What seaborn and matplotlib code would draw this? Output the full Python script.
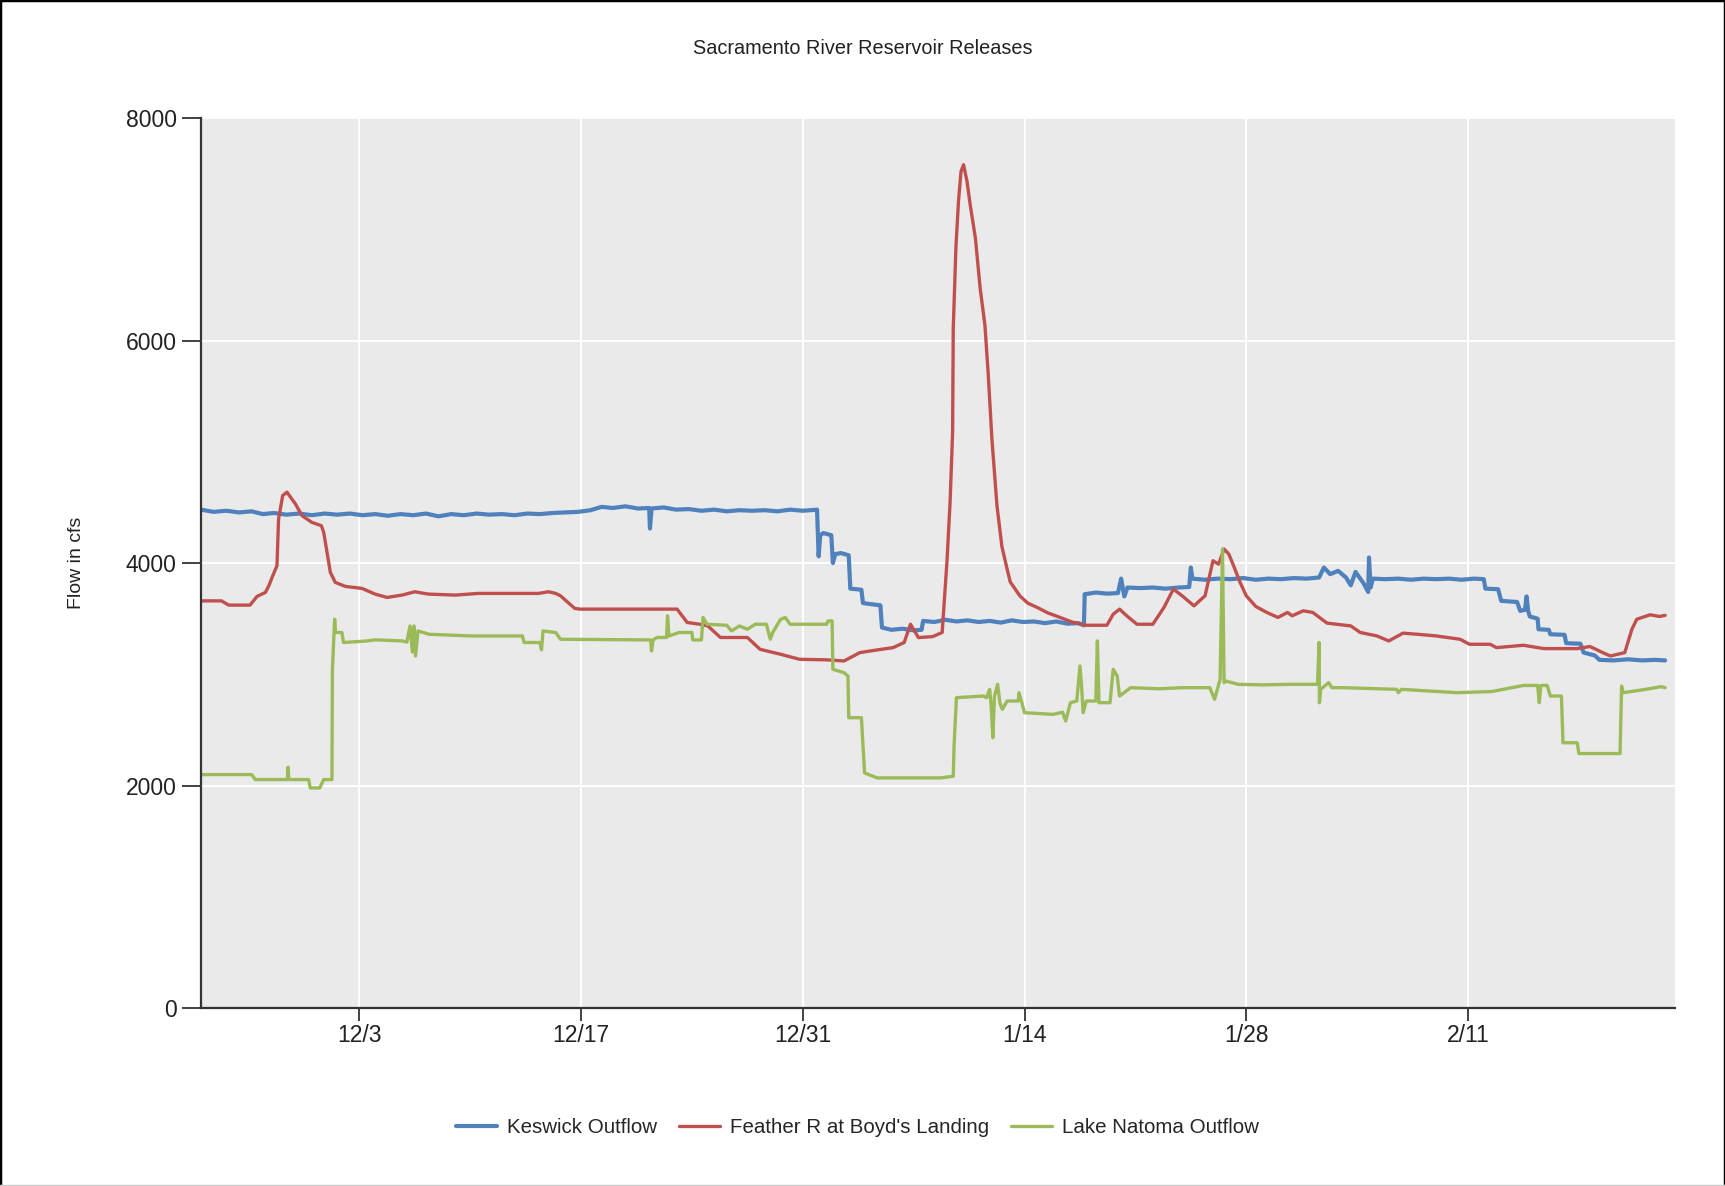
import pandas as pd
import seaborn as sns
import matplotlib
matplotlib.use('Agg')
import matplotlib.pyplot as plt
from matplotlib.lines import Line2D

# days counted from the first day of the record
start = '2012-11-23'

keswick_day = [0.0, 0.8, 1.6, 2.4, 3.2, 3.9, 4.6, 5.4, 6.2, 7.0, 7.8, 8.6, 9.4, 10.2, 11.0, 11.8,
               12.6, 13.4, 14.2, 15.0, 15.8, 16.6, 17.4, 18.2, 19.0, 19.8, 20.6, 21.4, 22.2, 23.0,
               23.8, 24.6, 25.3, 26.0, 26.8, 27.6, 28.3, 28.35, 28.45, 29.2, 30.0, 30.8, 31.6, 32.4,
               33.2, 34.0, 34.8, 35.6, 36.4, 37.2, 38.0, 38.9, 39.0, 39.1, 39.3, 39.8, 39.9, 40.05,
               40.4, 40.9, 41.0, 41.7, 41.8, 42.9, 43.0, 43.6, 44.3, 45.0, 45.5, 45.6, 46.3, 47.0,
               47.7, 48.4, 49.1, 49.8, 50.5, 51.2, 51.9, 52.6, 53.3, 54.0, 54.7, 55.4, 55.75, 55.8,
               56.5, 57.2, 57.9, 58.1, 58.3, 58.5, 59.3, 60.1, 60.9, 61.7, 62.4, 62.5, 62.6, 63.4,
               64.2, 65.0, 65.8, 66.6, 67.4, 68.2, 69.0, 69.8, 70.6, 70.9, 71.3, 71.8, 72.3, 72.6,
               72.9, 73.4, 73.7, 73.75, 73.85, 74.0, 74.8, 75.6, 76.4, 77.2, 78.0, 78.8, 79.6, 80.4,
               81.0, 81.1, 81.9, 82.1, 83.1, 83.3, 83.6, 83.7, 83.8, 83.9, 84.4, 84.45, 85.1, 85.2,
               86.1, 86.2, 87.1, 87.3, 88.0, 88.3, 89.2, 90.1, 91.0, 91.8, 92.45]
keswick_cfs = [4480, 4460, 4470, 4455, 4465, 4440, 4450, 4435, 4445, 4430, 4445, 4435, 4445, 4430, 4440, 4425,
               4440, 4430, 4445, 4420, 4440, 4430, 4445, 4435, 4440, 4430, 4445, 4440, 4450, 4455,
               4460, 4475, 4505, 4495, 4510, 4490, 4495, 4310, 4490, 4500, 4480, 4485, 4470, 4480,
               4465, 4475, 4470, 4475, 4465, 4480, 4470, 4480, 4060, 4250, 4270, 4250, 4000, 4080,
               4090, 4070, 3770, 3760, 3640, 3620, 3420, 3400, 3410, 3395, 3400, 3480, 3470, 3490,
               3475, 3485, 3470, 3480, 3465, 3485, 3470, 3475, 3460, 3475, 3455, 3460, 3440, 3720,
               3735, 3725, 3730, 3860, 3700, 3780, 3775, 3780, 3770, 3780, 3785, 3960, 3860, 3850,
               3860, 3855, 3865, 3850, 3860, 3855, 3865, 3860, 3870, 3960, 3900, 3930, 3870, 3800,
               3920, 3820, 3740, 4050, 3780, 3860, 3855, 3860, 3850, 3860, 3855, 3860, 3850, 3860,
               3855, 3770, 3765, 3660, 3650, 3570, 3580, 3700, 3570, 3520, 3500, 3405, 3400, 3360,
               3355, 3280, 3275, 3195, 3170, 3130, 3125, 3135, 3125, 3130, 3125]

feather_day = [0.0, 1.3, 1.75, 3.1, 3.54, 4.07, 4.3, 4.49, 4.8, 4.9, 5.16, 5.43, 5.96, 6.38, 7.0, 7.6,
               7.75, 7.96, 8.17, 8.48, 9.12, 10.17, 11.0, 11.75, 12.7, 13.5, 14.36, 16.06, 17.5, 21.3,
               21.95, 22.4, 22.7, 23.6, 23.95, 30.06, 30.7, 31.5, 32.0, 32.8, 34.5, 35.3, 36.6, 37.8,
               39.5, 40.6, 41.6, 42.5, 43.7, 44.4, 44.8, 45.3, 46.2, 46.8, 47.1, 47.3, 47.46, 47.5,
               47.67, 47.83, 47.99, 48.15, 48.37, 48.57, 48.9, 49.2, 49.5, 49.7, 49.94, 50.26, 50.57,
               50.9, 51.1, 51.7, 52.2, 52.8, 53.5, 54.25, 55.0, 55.9, 57.2, 57.6, 58.0, 58.5, 59.1,
               60.1, 60.8, 61.4, 62.0, 62.7, 63.4, 63.9, 64.25, 64.6, 64.9, 65.2, 65.6, 66.0, 66.6,
               67.3, 68.0, 68.6, 68.9, 69.6, 70.2, 71.1, 72.6, 73.2, 74.25, 75.0, 75.9, 76.8, 78.0,
               79.5, 80.1, 81.4, 81.8, 83.5, 84.8, 86.9, 87.7, 88.6, 89.0, 89.9, 90.35, 90.66, 91.5,
               92.1, 92.45]
feather_cfs = [3660, 3660, 3622, 3622, 3700, 3736, 3800, 3871, 3976, 4396, 4606, 4637, 4532, 4426, 4366, 4336,
               4276, 4096, 3916, 3826, 3790, 3772, 3721, 3691, 3712, 3742, 3721, 3712, 3727, 3727,
               3742, 3727, 3706, 3592, 3586, 3586, 3466, 3450, 3435, 3331, 3331, 3225, 3180, 3135,
               3130, 3120, 3195, 3215, 3240, 3286, 3450, 3330, 3339, 3376, 4006, 4547, 5177, 6108,
               6844, 7250, 7520, 7580, 7430, 7220, 6919, 6468, 6138, 5718, 5117, 4516, 4150,
               3946, 3830, 3706, 3640, 3601, 3550, 3511, 3470, 3441, 3441, 3540, 3586, 3520, 3450,
               3450, 3600, 3766, 3700, 3615, 3706, 4021, 3990, 4126, 4080, 3976, 3830, 3706, 3610,
               3556, 3511, 3556, 3526, 3571, 3556, 3460, 3435, 3376, 3345, 3300, 3370, 3360, 3345,
               3315, 3270, 3270, 3240, 3261, 3231, 3231, 3250, 3189, 3165, 3195, 3405, 3495, 3535,
               3520, 3530]

natoma_day = [0.0, 3.2, 3.43, 5.45, 5.5, 5.55, 6.8, 6.9, 7.5, 7.75, 8.27, 8.3, 8.44, 8.5, 8.9, 9.0,
              10.5, 11.0, 12.7, 13.0, 13.2, 13.35, 13.45, 13.55, 13.7, 14.4, 17.0, 20.3, 20.4, 21.4,
              21.5, 21.6, 22.4, 22.7, 28.4, 28.45, 28.55, 28.8, 29.4, 29.46, 29.55, 30.2, 31.0, 31.05,
              31.6, 31.7, 31.95, 33.2, 33.5, 34.0, 34.5, 35.0, 35.7, 35.95, 36.1, 36.6, 36.9, 37.2,
              39.5, 39.6, 39.85, 39.9, 40.6, 40.85, 40.9, 41.7, 41.9, 42.7, 46.7, 47.5, 47.55, 47.7,
              49.4, 49.6, 49.8, 49.9, 50.0, 50.1, 50.3, 50.45, 50.6, 50.9, 51.6, 51.65, 51.8, 52.0,
              53.8, 54.4, 54.6, 54.9, 55.3, 55.5, 55.6, 55.7, 55.9, 56.5, 56.6, 56.7, 57.4, 57.6,
              57.85, 58.0, 58.7, 60.5, 62.0, 63.7, 64.0, 64.35, 64.5, 64.6, 64.7, 65.5, 67.0, 68.8,
              70.5, 70.6, 70.62, 70.7, 71.2, 71.4, 72.1, 75.5, 75.6, 75.8, 77.6, 79.3, 81.5, 83.5,
              84.4, 84.5, 84.6, 85.0, 85.2, 85.9, 86.0, 86.9, 87.0, 89.6, 89.7, 89.8, 91.0, 92.2, 92.45]
natoma_cfs = [2099, 2099, 2054, 2054, 2165, 2054, 2054, 1979, 1979, 2054, 2054, 3045, 3495, 3376, 3376, 3286,
              3300, 3310, 3300, 3290, 3435, 3200, 3435, 3165, 3390, 3360, 3345, 3345, 3286, 3286,
              3220, 3390, 3375, 3315, 3309, 3210, 3310, 3331, 3331, 3526, 3345, 3376, 3376, 3309,
              3309, 3511, 3450, 3441, 3390, 3435, 3405, 3450, 3450, 3315, 3376, 3495, 3510, 3450,
              3450, 3480, 3480, 3045, 3015, 2985, 2610, 2610, 2114, 2069, 2069, 2084, 2354, 2790,
              2805, 2790, 2865, 2700, 2430, 2800, 2910, 2740, 2685, 2760, 2760, 2835, 2760, 2655,
              2640, 2660, 2580, 2745, 2760, 3075, 2900, 2655, 2760, 2760, 3300, 2745, 2745, 3045,
              2985, 2805, 2880, 2870, 2880, 2880, 2775, 2955, 4126, 2925, 2940, 2910, 2905, 2910,
              2910, 3286, 2745, 2865, 2925, 2880, 2880, 2865, 2835, 2865, 2850, 2835, 2845, 2900,
              2900, 2745, 2900, 2900, 2805, 2805, 2385, 2385, 2288, 2288, 2895, 2835, 2860, 2889, 2880]

series_names = ['Keswick Outflow', "Feather R at Boyd's Landing", 'Lake Natoma Outflow']
series_colors = ['#4F81BD', '#C0504D', '#9BBB59']
tick_dates = ['2012-12-03', '2012-12-17', '2012-12-31', '2013-01-14', '2013-01-28', '2013-02-11']
tick_labels = ['12/3', '12/17', '12/31', '1/14', '1/28', '2/11']
y_ticks = [0, 2000, 4000, 6000, 8000]

t0 = pd.Timestamp(start)
frames = []
for name, days, cfs in zip(series_names, [keswick_day, feather_day, natoma_day],
                           [keswick_cfs, feather_cfs, natoma_cfs]):
    frames.append(pd.DataFrame({'time': t0 + pd.to_timedelta(days, unit='D'),
                                'flow': cfs, 'series': name}))
df = pd.concat(frames, ignore_index=True)

sns.set_style('darkgrid', {'axes.facecolor': '#EAEAEA', 'grid.color': 'white'})
plt.rcParams['font.family'] = ['Liberation Sans', 'DejaVu Sans']

fig = plt.figure(figsize=(17.25, 11.86), dpi=100)
ax = fig.add_axes([0.1165, 0.150, 0.8545, 0.7505])

for name, color, lw in zip(series_names, series_colors, [3.0, 2.4, 2.4]):
    sns.lineplot(data=df[df['series'] == name], x='time', y='flow', color=color,
                 linewidth=lw, estimator=None, sort=False, ax=ax, label=name)

ax.set_xlim(t0, t0 + pd.Timedelta(days=93.07))
ax.set_ylim(0, 8000)
ax.set_xticks(pd.to_datetime(tick_dates))
ax.set_xticklabels(tick_labels)
ax.set_yticks(y_ticks)
ax.set_yticklabels([str(v) for v in y_ticks])
ax.set_xlabel('')
ax.set_ylabel('')
ax.grid(True, color='white', linewidth=1.4)

for side in ['top', 'right']:
    ax.spines[side].set_visible(False)
for side in ['left', 'bottom']:
    ax.spines[side].set_visible(True)
    ax.spines[side].set_color('#333333')
    ax.spines[side].set_linewidth(1.6)

ax.tick_params(axis='y', left=True, length=13.5, width=1.3, color='#333333', pad=4,
               labelsize=16.5, labelcolor='#222222')
ax.tick_params(axis='x', bottom=True, length=9.5, width=1.3, color='#333333', pad=2,
               labelsize=16.5, labelcolor='#222222')

handles, labels = ax.get_legend_handles_labels()
ax.get_legend().remove()
fig.legend(handles, labels, loc='center', bbox_to_anchor=(0.497, 0.049), ncol=3,
           frameon=False, fontsize=14.8, handlelength=2.0, handletextpad=0.45,
           columnspacing=1.1)

fig.text(0.5, 0.9595, 'Sacramento River Reservoir Releases', ha='center', va='center',
         fontsize=14.3, color='#222222')
fig.text(0.0446, 0.525, 'Flow in cfs', ha='center', va='center', rotation=90,
         fontsize=14, color='#222222')

# outer frame of the picture
fig.add_artist(Line2D([0, 1], [1, 1], transform=fig.transFigure, color='black', lw=2.5))
fig.add_artist(Line2D([0, 0], [0, 1], transform=fig.transFigure, color='black', lw=2.5))
fig.add_artist(Line2D([1, 1], [0, 1], transform=fig.transFigure, color='black', lw=2.5))
fig.add_artist(Line2D([0, 1], [0, 0], transform=fig.transFigure, color='#CCCCCC', lw=2.5))

fig.savefig('out.png', dpi=100)
